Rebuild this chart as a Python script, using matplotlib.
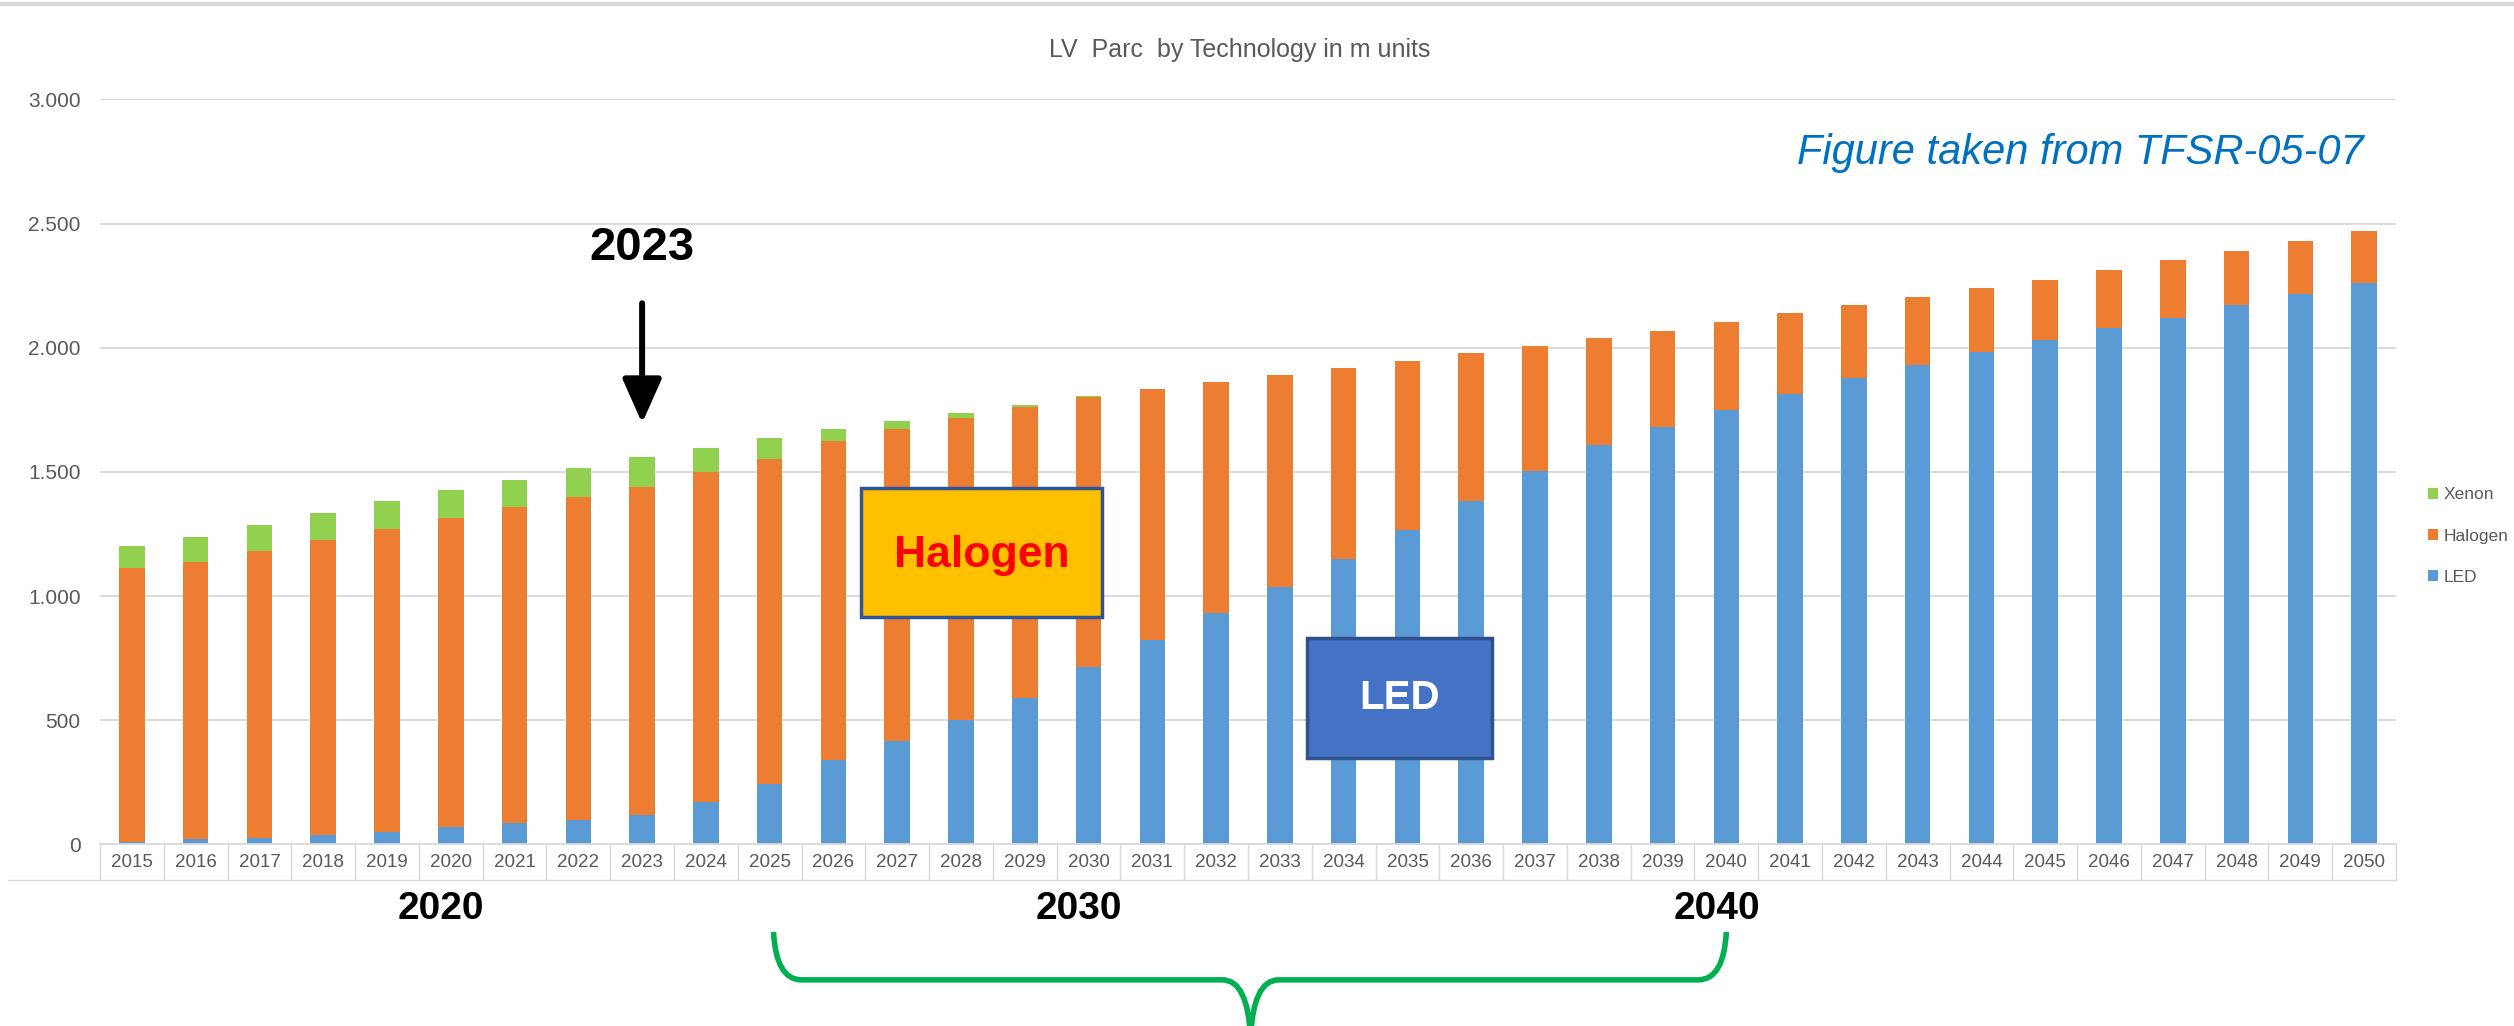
#LV parc by technology (stacked bars) with annotations

import numpy as np
import matplotlib
matplotlib.use("Agg")
import matplotlib.pyplot as plt
from matplotlib.patches import Rectangle, PathPatch
from matplotlib.path import Path
from matplotlib.lines import Line2D
from matplotlib.ticker import FuncFormatter

plt.rcParams['font.family'] = ['Liberation Sans', 'DejaVu Sans']

years = list(range(2015, 2051))
led = [11, 20, 27, 38, 50, 68, 85, 98, 118, 169, 243, 340, 415, 501, 588, 715,
       823, 930, 1037, 1149, 1266, 1382, 1504, 1608, 1679, 1750, 1814, 1876,
       1930, 1983, 2031, 2080, 2121, 2172, 2215, 2260]
halogen = [1103, 1118, 1155, 1189, 1220, 1247, 1273, 1299, 1322, 1331, 1308,
           1285, 1258, 1217, 1174, 1086, 1009, 931, 854, 768, 681, 595, 501,
           431, 390, 354, 324, 296, 276, 256, 242, 232, 231, 219, 214, 208]
xenon = [88, 99, 102, 107, 112, 112, 111, 117, 118, 97, 85, 46, 31, 20, 9, 4,
         2, 1, 1, 0, 0, 0, 0, 0, 0, 0, 0, 0, 0, 0, 0, 0, 0, 0, 0, 0]
decades = [2020, 2030, 2040]

cLED = '#5B9BD5'
cHal = '#ED7D31'
cXen = '#92D050'
cGrid = '#D9D9D9'
cTxt = '#595959'

W, H = 2514, 1026
fig = plt.figure(figsize=(W/100.0, H/100.0), dpi=100)
ax = fig.add_axes([100/W, 1-844.3/H, (2396-100)/W, (844.3-99.4)/H])

x = np.arange(len(years))
led = np.array(led)
halogen = np.array(halogen)
xenon = np.array(xenon)
bw = 0.40
bL = ax.bar(x, led, bw, color=cLED, label='LED', zorder=2)
bH = ax.bar(x, halogen, bw, bottom=led, color=cHal, label='Halogen', zorder=2)
bX = ax.bar(x, xenon, bw, bottom=led+halogen, color=cXen, label='Xenon', zorder=2)

ax.set_xlim(-0.5, len(years)-0.5)
ax.set_ylim(0, 3000)
ax.set_yticks(np.arange(0, 3001, 500))
ax.yaxis.set_major_formatter(FuncFormatter(lambda v, p: f"{v:,.0f}".replace(',', '.')))
ax.yaxis.grid(True, color=cGrid, lw=1.3)
ax.set_axisbelow(True)
ax.tick_params(axis='y', length=0, pad=14, labelsize=15, labelcolor=cTxt)

ax.set_xticks(x)
ax.set_xticklabels([str(y) for y in years])
ax.set_xticks(np.arange(-0.5, len(years)), minor=True)
ax.tick_params(axis='x', which='major', length=0, pad=7, labelsize=13.5, labelcolor=cTxt)
ax.tick_params(axis='x', which='minor', length=26, width=1, color=cGrid)

for s in ['left', 'top', 'right']:
    ax.spines[s].set_visible(False)
ax.spines['bottom'].set_color(cGrid)
ax.spines['bottom'].set_linewidth(1.3)

#bottom of the label cells + top frame line
fig.add_artist(Line2D([8/W, 2396/W], [1-880/H, 1-880/H], color=cGrid, lw=1))
fig.add_artist(Line2D([0, 1], [1-4/H, 1-4/H], color=cGrid, lw=3))

fig.text(1240/W, 1-50/H, 'LV  Parc  by Technology in m units', ha='center', va='center',
         fontsize=18, color=cTxt)

ax.legend(handles=[bX, bH, bL], loc='center left', bbox_to_anchor=(2428/W, 1-536/H),
          bbox_transform=fig.transFigure, frameon=False, fontsize=12.5, labelcolor=cTxt,
          handlelength=0.6, handleheight=0.6, handletextpad=0.3, labelspacing=1.5,
          borderpad=0, borderaxespad=0)

fig.text(2364/W, 1-153/H, 'Figure taken from TFSR-05-07', ha='right', va='center',
         fontsize=30, style='italic', color='#0070C0')

#2023 marker
i23 = years.index(2023)
ax.text(i23, 2401, '2023', ha='center', va='center', fontsize=34, fontweight='bold')
ax.annotate('', xy=(i23, 1696), xytext=(i23, 2179),
            arrowprops=dict(arrowstyle='-|>,head_length=0.45,head_width=0.2',
                            mutation_scale=60, lw=4.3, color='black',
                            shrinkA=0, shrinkB=0))

#technology boxes
ax.add_patch(Rectangle((11.43, 915), 3.78, 519.5, facecolor='#FFC000',
                       edgecolor='#2F5597', lw=2.5, zorder=5))
ax.text(13.32, 1165, 'Halogen', ha='center', va='center', fontsize=32,
        fontweight='bold', color='#FF0000', zorder=6)
ax.add_patch(Rectangle((18.43, 348), 2.9, 483, facecolor='#4472C4',
                       edgecolor='#2F528F', lw=2.5, zorder=5))
ax.text(19.88, 590, 'LED', ha='center', va='center', fontsize=29,
        fontweight='bold', color='white', zorder=6)

#decade labels under the axis
for d in decades:
    ax.text(years.index(d)-0.15, -262, str(d), ha='center', va='center',
            fontsize=28, fontweight='bold', clip_on=False)

#green brace
verts = [(10.06, -353), (10.10, -546), (10.5, -546), (17.1, -546),
         (17.5, -546), (17.54, -780),
         (25.0, -353), (24.96, -546), (24.56, -546), (17.98, -546),
         (17.58, -546), (17.54, -780)]
codes = [Path.MOVETO, Path.CURVE3, Path.CURVE3, Path.LINETO, Path.CURVE3, Path.CURVE3,
         Path.MOVETO, Path.CURVE3, Path.CURVE3, Path.LINETO, Path.CURVE3, Path.CURVE3]
ax.add_patch(PathPatch(Path(verts, codes), facecolor='none', edgecolor='#00B050',
                       lw=4, clip_on=False))

fig.savefig('out.png', dpi=100)
plt.close('all')
